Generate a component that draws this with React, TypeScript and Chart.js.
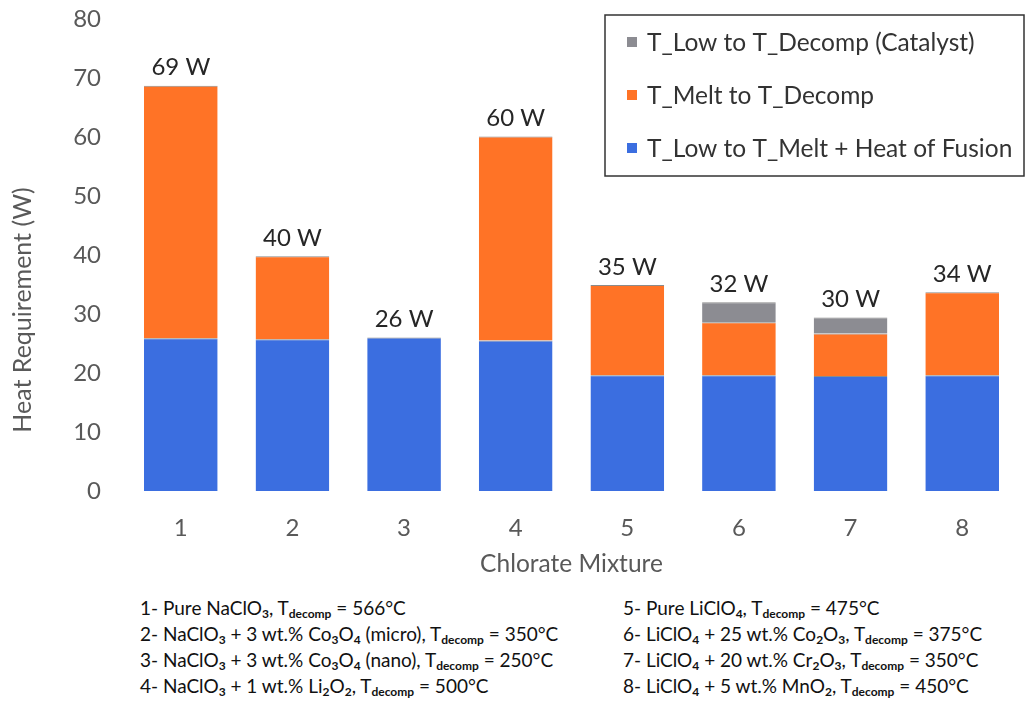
import React, { useEffect, useRef } from "react";
import { Chart, registerables } from "chart.js";

Chart.register(...registerables);

const categories = ["1", "2", "3", "4", "5", "6", "7", "8"];
const lowToMelt = [25.9, 25.7, 26.0, 25.5, 19.6, 19.6, 19.5, 19.6];
const meltToDecomp = [42.8, 14.1, 0, 34.6, 15.3, 9.0, 7.2, 14.1];
const lowToDecompCat = [0, 0, 0, 0, 0, 3.4, 2.7, 0];
const totalLabels = ["69 W", "40 W", "26 W", "60 W", "35 W", "32 W", "30 W", "34 W"];
const yTicks = [0, 10, 20, 30, 40, 50, 60, 70, 80];
const yTitle = "Heat Requirement (W)";
const xTitle = "Chlorate Mixture";

const seriesNames = [
  "T_Low to T_Melt + Heat of Fusion",
  "T_Melt to T_Decomp",
  "T_Low to T_Decomp (Catalyst)",
];
const colors = ["#3b6ee0", "#ff7326", "#8c8c92"];

const notesLeft = [
  <>1- Pure NaClO<sub>3</sub>, T<sub>decomp</sub> = 566°C</>,
  <>2- NaClO<sub>3</sub> + 3 wt.% Co<sub>3</sub>O<sub>4</sub> (micro), T<sub>decomp</sub> = 350°C</>,
  <>3- NaClO<sub>3</sub> + 3 wt.% Co<sub>3</sub>O<sub>4</sub> (nano), T<sub>decomp</sub> = 250°C</>,
  <>4- NaClO<sub>3</sub> + 1 wt.% Li<sub>2</sub>O<sub>2</sub>, T<sub>decomp</sub> = 500°C</>,
];
const notesRight = [
  <>5- Pure LiClO<sub>4</sub>, T<sub>decomp</sub> = 475°C</>,
  <>6- LiClO<sub>4</sub> + 25 wt.% Co<sub>2</sub>O<sub>3</sub>, T<sub>decomp</sub> = 375°C</>,
  <>7- LiClO<sub>4</sub> + 20 wt.% Cr<sub>2</sub>O<sub>3</sub>, T<sub>decomp</sub> = 350°C</>,
  <>8- LiClO<sub>4</sub> + 5 wt.% MnO<sub>2</sub>, T<sub>decomp</sub> = 450°C</>,
];

const FONT = "Lato, 'Open Sans', sans-serif";

const totalsPlugin = {
  id: "totals",
  afterDatasetsDraw(chart: any) {
    const ctx = chart.ctx;
    const lastMeta = chart.getDatasetMeta(chart.data.datasets.length - 1);
    const y = chart.scales.y;
    ctx.save();
    ctx.font = `24px ${FONT}`;
    ctx.fillStyle = "#262626";
    ctx.textAlign = "center";
    ctx.textBaseline = "bottom";
    categories.forEach((_, i) => {
      const total = lowToMelt[i] + meltToDecomp[i] + lowToDecompCat[i];
      const x = lastMeta.data[i].x;
      ctx.fillText(totalLabels[i], x, y.getPixelForValue(total) - 6);
    });
    ctx.restore();
  },
};

const yTitlePlugin = {
  id: "yTitle",
  afterDraw(chart: any) {
    const ctx = chart.ctx;
    ctx.save();
    ctx.translate(23, 310);
    ctx.rotate(-Math.PI / 2);
    ctx.font = `25px ${FONT}`;
    ctx.fillStyle = "#595959";
    ctx.textAlign = "center";
    ctx.textBaseline = "middle";
    ctx.fillText(yTitle, 0, 0);
    ctx.restore();
  },
};

const legendPlugin = {
  id: "boxLegend",
  afterDraw(chart: any) {
    const ctx = chart.ctx;
    const left = 605, top = 15, w = 419, h = 161;
    ctx.save();
    ctx.fillStyle = "#ffffff";
    ctx.fillRect(left, top, w, h);
    ctx.strokeStyle = "#333333";
    ctx.lineWidth = 1.5;
    ctx.strokeRect(left, top, w, h);
    ctx.font = `24.5px ${FONT}`;
    ctx.textBaseline = "middle";
    const order = [2, 1, 0];
    order.forEach((di, k) => {
      const cy = top + 27 + k * 53;
      const ds = chart.data.datasets[di];
      ctx.fillStyle = ds.backgroundColor;
      ctx.fillRect(left + 22, cy - 5, 10, 10);
      ctx.fillStyle = "#333333";
      ctx.fillText(ds.label, left + 42, cy + 1);
    });
    ctx.restore();
  },
};

export default function App() {
  const ref = useRef<HTMLCanvasElement>(null);
  useEffect(() => {
    document.body.style.margin = "0";
    const datasets = [lowToMelt, meltToDecomp, lowToDecompCat].map((d, i) => ({
      label: seriesNames[i],
      data: d,
      backgroundColor: colors[i],
      borderColor: "rgba(90,90,90,0.7)",
      borderWidth: { top: 1, left: 0, right: 0, bottom: 0 },
      borderSkipped: false,
      barPercentage: 0.66,
      categoryPercentage: 1.0,
    }));
    const chart = new Chart(ref.current!, {
      type: "bar",
      data: { labels: categories, datasets },
      options: {
        animation: false,
        responsive: false,
        maintainAspectRatio: false,
        layout: { padding: { top: 19, right: 9, left: 0, bottom: 0 } },
        plugins: { legend: { display: false }, tooltip: { enabled: false } },
        scales: {
          x: {
            stacked: true,
            grid: { display: false, drawTicks: true, tickLength: 23 },
            border: { display: false },
            ticks: { color: "#595959", font: { family: FONT, size: 24 }, padding: 0 },
            title: {
              display: true,
              text: xTitle,
              color: "#595959",
              font: { family: FONT, size: 24.5 },
              padding: { top: 0, bottom: 11 },
            },
            afterFit: (s: any) => { s.height = 99; },
          },
          y: {
            stacked: true,
            min: 0,
            max: 80,
            afterBuildTicks: (s: any) => { s.ticks = yTicks.map((v) => ({ value: v })); },
            grid: { display: false, drawTicks: true, tickLength: 24 },
            border: { display: false },
            ticks: { color: "#595959", font: { family: FONT, size: 24 }, padding: 0 },
            title: { display: false },
            afterFit: (s: any) => { s.width = 125; },
          },
        },
      },
      plugins: [totalsPlugin, yTitlePlugin, legendPlugin],
    });
    return () => chart.destroy();
  }, []);

  const noteStyle: React.CSSProperties = {
    position: "absolute",
    top: 595,
    fontFamily: FONT,
    fontSize: 19,
    lineHeight: "26px",
    color: "#111",
  };
  return (
    <div style={{ position: "relative", width: 1027, height: 704, background: "#fff" }}>
      <canvas ref={ref} width={1027} height={590} style={{ display: "block" }} />
      <div style={{ ...noteStyle, left: 140 }}>
        {notesLeft.map((n, i) => <div key={i}>{n}</div>)}
      </div>
      <div style={{ ...noteStyle, left: 623 }}>
        {notesRight.map((n, i) => <div key={i}>{n}</div>)}
      </div>
      <style>{`sub{font-size:12px;font-weight:bold;line-height:0;vertical-align:-3px}`}</style>
    </div>
  );
}
